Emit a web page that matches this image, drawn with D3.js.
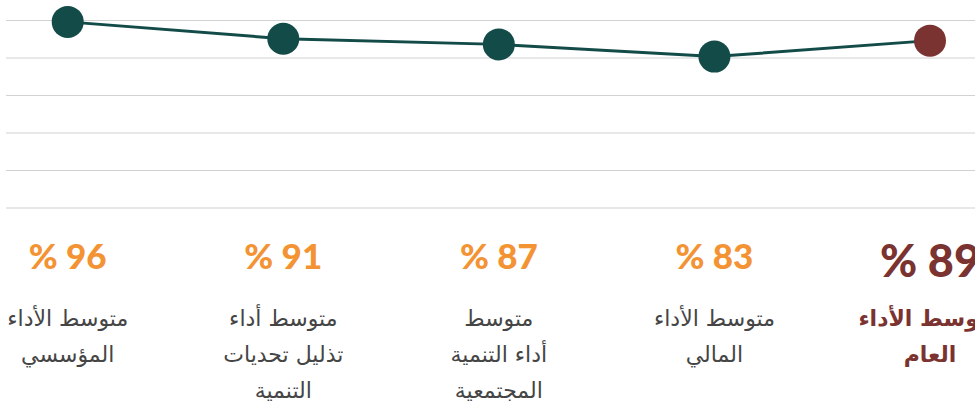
<!DOCTYPE html>
<html lang="ar">
<head>
<meta charset="utf-8">
<script src="https://cdn.jsdelivr.net/npm/d3@7/dist/d3.min.js"></script>
<style>
  html, body { margin: 0; padding: 0; background: #fff; overflow: hidden; }
  svg { display: block; }
</style>
</head>
<body>
<svg id="chart" width="975" height="408"></svg>
<script>
// ---- data ----
const categories = [
  ["متوسط الأداء", "المؤسسي"],
  ["متوسط أداء", "تذليل تحديات", "التنمية"],
  ["متوسط", "أداء التنمية", "المجتمعية"],
  ["متوسط الأداء", "المالي"],
  ["متوسط الأداء", "العام"]
];
const percentLabels = [96, 91, 87, 83, 89];
const plottedValues = [99, 90, 87, 80.5, 89];
const yTicks = [0, 20, 40, 60, 80, 100];
const highlightIndex = 4;

// ---- layout ----
const W = 975, H = 408;
const svg = d3.select("#chart");
const green = "#134b49", red = "#7a3330", orange = "#f39333", grey = "#454545";

const x = d3.scalePoint().domain(d3.range(categories.length)).range([67.7, 930]);
const y = d3.scaleLinear().domain([0, 100]).range([207.5, 20]);

// gridlines
const grid = svg.append("g").attr("transform", "translate(6,0)")
  .call(d3.axisLeft(y).tickValues(yTicks).tickSize(-(W - 6)).tickFormat(""));
grid.select(".domain").remove();
grid.selectAll(".tick line").attr("stroke", "#d2d2d2").attr("stroke-width", 1.2);

// line
svg.append("path")
  .datum(plottedValues)
  .attr("fill", "none")
  .attr("stroke", green)
  .attr("stroke-width", 3)
  .attr("d", d3.line().x((d, i) => x(i)).y(d => y(d)));

// markers
svg.selectAll("circle.pt").data(plottedValues).join("circle")
  .attr("class", "pt")
  .attr("cx", (d, i) => x(i))
  .attr("cy", d => y(d))
  .attr("r", 16)
  .attr("fill", (d, i) => i === highlightIndex ? red : green);

// percentages
svg.selectAll("text.pct").data(percentLabels).join("text")
  .attr("class", "pct")
  .attr("x", (d, i) => x(i))
  .attr("y", (d, i) => i === highlightIndex ? 277 : 269)
  .attr("text-anchor", "middle")
  .attr("direction", "rtl")
  .attr("font-family", "Lato, 'DejaVu Sans', sans-serif")
  .attr("font-weight", 900)
  .attr("font-size", (d, i) => i === highlightIndex ? 45 : 35)
  .attr("fill", (d, i) => i === highlightIndex ? red : orange)
  .text(d => d + " %");

// category labels
const lab = svg.selectAll("text.cat").data(categories).join("text")
  .attr("class", "cat")
  .attr("text-anchor", "middle")
  .attr("direction", "rtl")
  .attr("font-family", "'DejaVu Sans', sans-serif")
  .attr("font-size", 22)
  .attr("font-weight", (d, i) => i === highlightIndex ? "bold" : "normal")
  .attr("fill", (d, i) => i === highlightIndex ? red : grey);
lab.each(function(lines, i) {
  d3.select(this).selectAll("tspan").data(lines).join("tspan")
    .attr("x", x(i))
    .attr("y", (d, k) => 326 + k * 36)
    .text(d => d);
});
</script>
</body>
</html>
